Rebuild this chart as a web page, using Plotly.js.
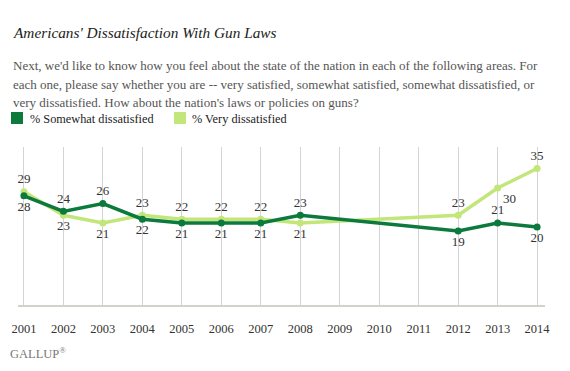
<!DOCTYPE html>
<html>
<head>
<meta charset="utf-8">
<script src="https://cdn.plot.ly/plotly-3.0.1.min.js"></script>
<style>html,body{margin:0;padding:0;background:#fff;}#chart{width:570px;height:371px;}</style>
</head>
<body>
<div id="chart"></div>
<script>
var years = [2001, 2002, 2003, 2004, 2005, 2006, 2007, 2008, 2009, 2010, 2011, 2012, 2013, 2014];
var somewhatDissatisfied = [28, 24, 26, 22, 21, 21, 21, 23, null, null, null, 19, 21, 20];
var veryDissatisfied = [29, 23, 21, 23, 22, 22, 22, 21, null, null, null, 23, 30, 35];
var somewhatPos = ['bottom center','top center','top center','bottom center','bottom center','bottom center','bottom center','top center','','','','bottom center','top center','bottom center'];
var veryPos = ['top center','bottom center','bottom center','top center','top center','top center','top center','bottom center','','','','top center','bottom right','top center'];
var seriesNames = ['% Somewhat dissatisfied', '% Very dissatisfied'];
var titleText = "Americans' Dissatisfaction With Gun Laws";
var subtitleLines = [
  "Next, we'd like to know how you feel about the state of the nation in each of the following areas. For",
  "each one, please say whether you are -- very satisfied, somewhat satisfied, somewhat dissatisfied, or",
  "very dissatisfied. How about the nation's laws or policies on guns?"
];

var DARK = '#0b7a3c', LIGHT = '#c3e67a';
var SERIF = 'Liberation Serif, DejaVu Serif, serif';

function lineTrace(vals, color, name){
  return {x: years, y: vals, name: name, mode: 'lines+markers', connectgaps: true,
    line: {color: color, width: 3.5}, marker: {color: color, size: 7}, hoverinfo: 'none'};
}
function labelTrace(vals, pos){
  var xs = [], ys = [], ts = [], ps = [];
  vals.forEach(function(v, i){
    if (v !== null) { xs.push(years[i]); ys.push(v); ts.push(String(v)); ps.push(pos[i]); }
  });
  return {x: xs, y: ys, mode: 'markers+text', text: ts, textposition: ps,
    marker: {size: 7, color: 'rgba(0,0,0,0)'},
    textfont: {family: SERIF, size: 13, color: '#333'}, hoverinfo: 'none', cliponaxis: false};
}

var traces = [
  lineTrace(veryDissatisfied, LIGHT, seriesNames[1]),
  lineTrace(somewhatDissatisfied, DARK, seriesNames[0]),
  labelTrace(veryDissatisfied, veryPos),
  labelTrace(somewhatDissatisfied, somewhatPos)
];

var L = 18, R = 545, T = 147, B = 305;
var W = R - L, H = B - T;
function px(x){ return (x - L) / W; }
function py(y){ return (B - y) / H; }

function ann(text, x, y, size, color){
  return {text: text, xref: 'paper', yref: 'paper', x: px(x), y: py(y), xanchor: 'left', yanchor: 'middle',
    showarrow: false, font: {family: SERIF, size: size, color: color}};
}

var annotations = [ann('<i>' + titleText + '</i>', 11, 33, 15.3, '#222')];
subtitleLines.forEach(function(t, i){
  annotations.push(ann(t, 11, 66 + i * 18, 13, '#555'));
});
annotations.push(ann(seriesNames[0], 28, 119, 12.3, '#222'));
annotations.push(ann(seriesNames[1], 190, 119, 12.3, '#222'));
annotations.push(ann('GALLUP<sup>®</sup>', 8, 353, 12.5, '#777'));

var shapes = [
  {type: 'rect', xref: 'paper', yref: 'paper', x0: px(11), x1: px(23), y0: py(124), y1: py(112), fillcolor: DARK, line: {width: 0}},
  {type: 'rect', xref: 'paper', yref: 'paper', x0: px(174), x1: px(186), y0: py(124), y1: py(112), fillcolor: LIGHT, line: {width: 0}}
];

var layout = {
  width: 570, height: 371,
  margin: {l: L, r: 570 - R, t: T, b: 371 - B, pad: 0},
  paper_bgcolor: '#fff', plot_bgcolor: '#fff',
  showlegend: false,
  xaxis: {range: [2000.85, 2014.2], tickvals: years, ticktext: years.map(String),
    showgrid: true, gridcolor: '#d4d4d4', gridwidth: 1,
    showline: true, linecolor: '#d2d2cc', linewidth: 2,
    ticks: 'outside', ticklen: 11, tickcolor: 'rgba(0,0,0,0)',
    tickfont: {family: SERIF, size: 12.5, color: '#333'}, zeroline: false, fixedrange: true},
  yaxis: {range: [0, 40.5], showgrid: false, showticklabels: false, zeroline: false, showline: false, fixedrange: true},
  annotations: annotations,
  shapes: shapes
};

Plotly.newPlot('chart', traces, layout, {displayModeBar: false, staticPlot: true});
</script>
</body>
</html>
